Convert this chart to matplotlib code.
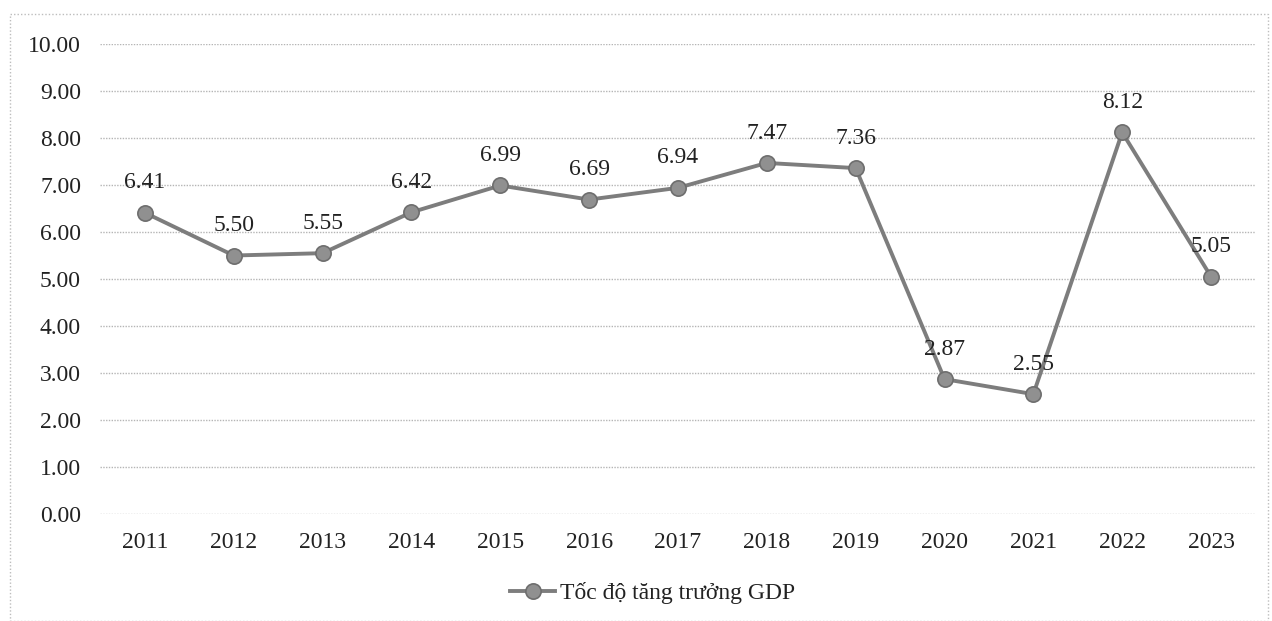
import matplotlib
matplotlib.use("Agg")
import matplotlib.pyplot as plt
from matplotlib.patches import Rectangle

years = ["2011", "2012", "2013", "2014", "2015", "2016", "2017", "2018", "2019", "2020", "2021", "2022", "2023"]
gdp_growth = [6.41, 5.50, 5.55, 6.42, 6.99, 6.69, 6.94, 7.47, 7.36, 2.87, 2.55, 8.12, 5.05]
yticks = [0, 1, 2, 3, 4, 5, 6, 7, 8, 9, 10]
series_name = "Tốc độ tăng trưởng GDP"

plt.rcParams['font.family'] = ['Liberation Serif', 'DejaVu Serif']

fig = plt.figure(figsize=(12.72, 6.21), dpi=100)
ax = fig.add_axes([0.079, 0.1723, 0.908, 0.7568])

x = list(range(len(years)))
ax.plot(x, gdp_growth, color="#7d7d7d", lw=2.8, marker="o", markersize=11,
        markerfacecolor="#909090", markeredgecolor="#6e6e6e", markeredgewidth=1.2,
        label=series_name, zorder=3)

for xi, v in zip(x, gdp_growth):
    ax.annotate(f"{v:.2f}", (xi, v), xytext=(0, 21.5), textcoords="offset points",
                ha="center", va="center", fontsize=17, color="#222222", zorder=4)

ax.set_xlim(-0.5, len(years) - 0.5)
ax.set_ylim(0, 10)
ax.set_yticks(yticks)
ax.set_yticklabels([f"{t:.2f}" for t in yticks])
ax.set_xticks(x)
ax.set_xticklabels(years)
ax.tick_params(axis="both", length=0, labelsize=17, labelcolor="#222222")
ax.tick_params(axis="x", pad=13)
ax.tick_params(axis="y", pad=14)
for s in ax.spines.values():
    s.set_visible(False)
ax.grid(axis="y", color="#b5b5b5", lw=1.0, ls=(0, (1, 1)))
ax.set_axisbelow(True)

leg = fig.legend(loc="center", bbox_to_anchor=(0.513, 0.045), frameon=False,
                 fontsize=17, handlelength=1.9, handletextpad=0.2)
for t in leg.get_texts():
    t.set_color("#222222")

fig.patches.append(Rectangle((10/1272, 0.0), 1258/1272, (621-14)/621, transform=fig.transFigure,
                             fill=False, edgecolor="#bdbdbd", lw=1.0, ls=(0, (1, 1.5))))

fig.savefig("out.png", dpi=100)
